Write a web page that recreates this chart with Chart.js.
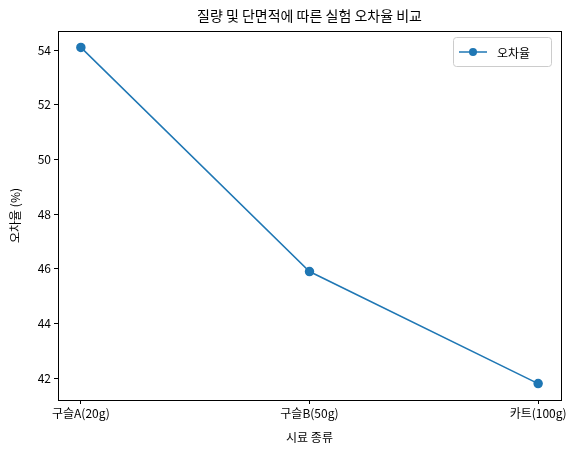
<!DOCTYPE html>
<html><head><meta charset="utf-8">
<script src="https://cdn.jsdelivr.net/npm/chart.js@4"></script>
<style>html,body{margin:0;background:#fff}</style>
</head><body>
<canvas id="c" width="571" height="455"></canvas>
<script>
const categories = ['구슬A(20g)', '구슬B(50g)', '카트(100g)'];
const errorRates = [54.1, 45.9, 41.8];
const yTicks = [42, 44, 46, 48, 50, 52, 54];
const FONT = "'Noto Sans CJK KR', 'DejaVu Sans', sans-serif";
const BLUE = '#1f77b4';

const frame = {
  id: 'frame',
  afterDraw(chart) {
    const { ctx, chartArea: a } = chart;
    ctx.save();
    ctx.strokeStyle = '#000'; ctx.lineWidth = 1;
    ctx.strokeRect(a.left + 0.5, a.top + 0.5, a.right - a.left, a.bottom - a.top);
    ctx.fillStyle = '#000';
    ctx.font = '14px ' + FONT;
    ctx.textAlign = 'center'; ctx.textBaseline = 'middle';
    ctx.fillText('질량 및 단면적에 따른 실험 오차율 비교', (a.left + a.right) / 2, 16);
    // legend
    const bx = a.right - 108, by = a.top + 6, bw = 98, bh = 29;
    ctx.strokeStyle = '#ccc';
    ctx.beginPath(); ctx.roundRect(bx + 0.5, by + 0.5, bw, bh, 3); ctx.fillStyle = 'rgba(255,255,255,0.8)'; ctx.fill(); ctx.stroke();
    ctx.strokeStyle = BLUE; ctx.lineWidth = 1.5;
    ctx.beginPath(); ctx.moveTo(bx + 6, by + 15); ctx.lineTo(bx + 34, by + 15); ctx.stroke();
    ctx.fillStyle = BLUE;
    ctx.beginPath(); ctx.arc(bx + 20, by + 15, 4, 0, Math.PI * 2); ctx.fill();
    ctx.fillStyle = '#000'; ctx.textAlign = 'left'; ctx.font = '12px ' + FONT;
    ctx.fillText('오차율', bx + 44, by + 16);
    ctx.restore();
  }
};

new Chart(document.getElementById('c'), {
  type: 'line',
  data: {
    datasets: [{
      label: '오차율',
      data: errorRates.map((v, i) => ({ x: i, y: v })),
      borderColor: BLUE, backgroundColor: BLUE,
      borderWidth: 1.5, pointRadius: 4, pointHoverRadius: 4
    }]
  },
  options: {
    responsive: false, animation: false,
    layout: { padding: { top: 31, right: 10, left: 8, bottom: 10 } },
    plugins: { legend: { display: false }, title: { display: false }, tooltip: { enabled: false } },
    scales: {
      x: {
        type: 'linear', min: -0.1, max: 2.1,
        afterFit(s) { s.height = 45; },
        afterBuildTicks(s) { s.ticks = categories.map((c, i) => ({ value: i })); },
        ticks: { callback: v => categories[v], color: '#000', font: { family: FONT, size: 12 }, maxRotation: 0, padding: 2 },
        grid: { drawOnChartArea: false, tickLength: 4, color: '#000' },
        border: { color: '#000' },
        title: { display: true, text: '시료 종류', color: '#000', font: { family: FONT, size: 12 }, padding: 0 }
      },
      y: {
        min: 41.2, max: 54.7,
        afterFit(s) { s.width = 50; },
        afterBuildTicks(s) { s.ticks = yTicks.map(v => ({ value: v })); },
        ticks: { color: '#000', font: { family: FONT, size: 12 }, padding: 3 },
        grid: { drawOnChartArea: false, tickLength: 4, color: '#000' },
        border: { color: '#000' },
        title: { display: true, text: '오차율 (%)', color: '#000', font: { family: FONT, size: 12 }, padding: 0 }
      }
    }
  },
  plugins: [frame]
});
</script>
</body></html>
